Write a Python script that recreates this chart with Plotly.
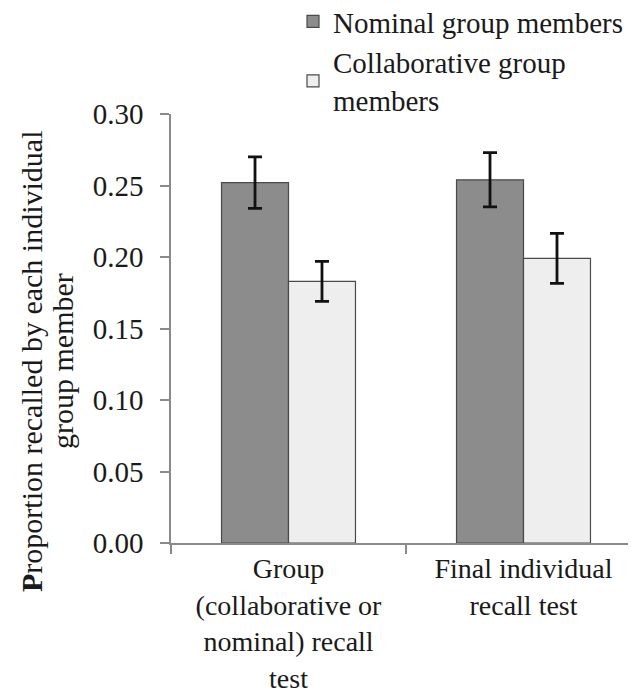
import plotly.graph_objects as go

categories = ["Group<br>(collaborative or<br>nominal) recall<br>test", "Final individual<br>recall test"]
series_names = ["Nominal group members", "Collaborative group<br>members"]
nominal = [0.252, 0.254]
nominal_err = [0.018, 0.019]
collab = [0.183, 0.199]
collab_err = [0.014, 0.0175]
y_ticks = [0.00, 0.05, 0.10, 0.15, 0.20, 0.25, 0.30]
y_tick_labels = ["0.00", "0.05", "0.10", "0.15", "0.20", "0.25", "0.30"]
y_title_lines = ["<b>P</b>roportion recalled by each individual", "group member"]

FONT = "Liberation Serif"
FS = 29

# page offset of the figure (browser body margin)
OFF = 8
PL, PT, PH, PW = 171, 114, 429, 473   # plot area in page pixels


def px(page_x):
    return (page_x - PL) / PW


def py(page_y):
    return (PT + PH - page_y) / PH


fig = go.Figure()
fig.add_trace(go.Bar(
    x=categories, y=nominal, name=series_names[0],
    marker=dict(color="#8c8c8c", line=dict(color="#4a4a4a", width=1.2)),
    error_y=dict(type="data", array=nominal_err, color="#111111", thickness=2.8, width=7),
))
fig.add_trace(go.Bar(
    x=categories, y=collab, name=series_names[1],
    marker=dict(color="#eeeeee", line=dict(color="#4a4a4a", width=1.2)),
    error_y=dict(type="data", array=collab_err, color="#111111", thickness=2.8, width=7),
))

annotations = []
for line, xc in zip(y_title_lines, [31, 62]):
    annotations.append(dict(
        text=line, xref="paper", yref="paper",
        x=px(xc), y=py(361), xanchor="center", yanchor="middle",
        textangle=-90, showarrow=False,
        font=dict(family=FONT, size=30, color="#1a1a1a"),
    ))

fig.update_layout(
    width=636, height=692,
    margin=dict(l=PL - OFF, r=0, t=PT - OFF, b=692 - (PT - OFF) - PH, autoexpand=False),
    paper_bgcolor="white", plot_bgcolor="white",
    barmode="group", bargap=0.43, bargroupgap=0,
    font=dict(family=FONT, size=FS, color="#1a1a1a"),
    showlegend=True,
    legend=dict(
        x=px(293), xanchor="left",
        y=py(-4), yanchor="top",
        font=dict(family=FONT, size=FS, color="#1a1a1a"),
        bgcolor="rgba(0,0,0,0)", itemwidth=30, tracegroupgap=0,
    ),
    xaxis=dict(
        range=[-0.5, -0.5 + PW / 235], showgrid=False, zeroline=False,
        showline=True, linecolor="#8a8a8a", linewidth=1.5,
        ticks="outside", tickson="boundaries", ticklen=9, tickcolor="#8a8a8a", tickwidth=1.5,
        tickfont=dict(family=FONT, size=28, color="#1a1a1a"),
        fixedrange=True,
    ),
    yaxis=dict(
        range=[0, 0.30], tickvals=y_ticks, ticktext=y_tick_labels,
        showgrid=False, zeroline=False,
        showline=True, linecolor="#8a8a8a", linewidth=1.5,
        ticks="outside", ticklen=9, tickcolor="#8a8a8a", tickwidth=1.5,
        tickfont=dict(family=FONT, size=FS, color="#1a1a1a"),
        ticklabelstandoff=11,
    ),
    annotations=annotations,
)

fig.write_html("out.html")
